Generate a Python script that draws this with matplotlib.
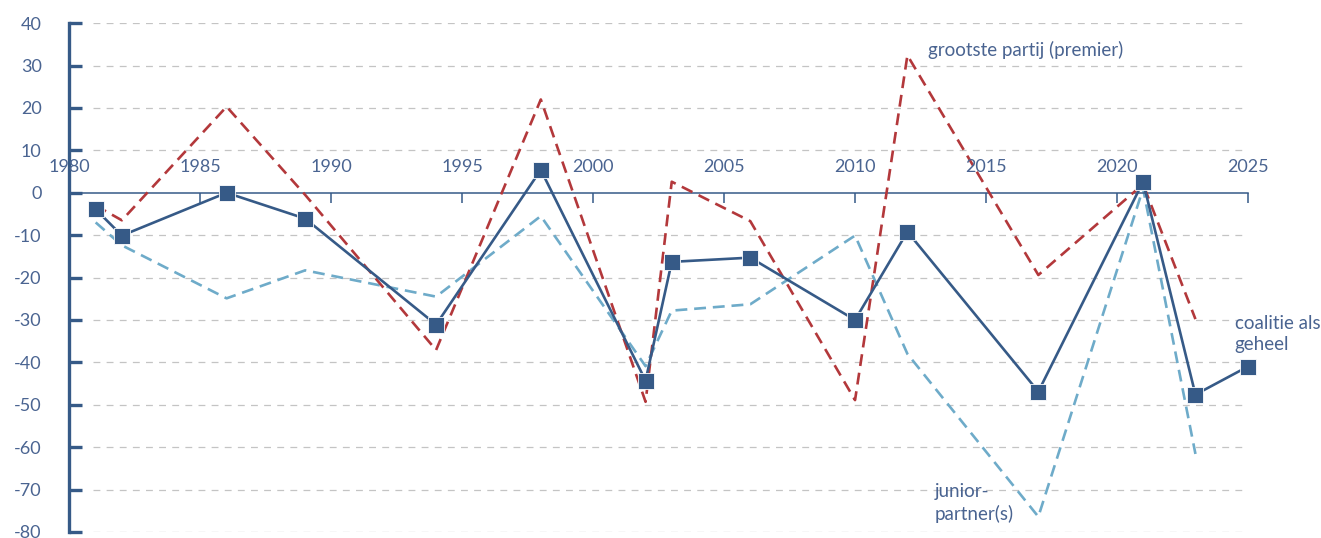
import matplotlib
matplotlib.use("Agg")
import matplotlib.pyplot as plt

# verkiezingsjaren en zetelverandering (%)
years = [1981, 1982, 1986, 1989, 1994, 1998, 2002, 2003, 2006, 2010, 2012, 2017, 2021, 2023, 2025]
coalitie = [-3.9, -10.1, 0.0, -6.1, -31.1, 5.4, -44.3, -16.3, -15.3, -30.0, -9.2, -46.9, 2.6, -47.6, -41.0]

years_pm = [1981, 1982, 1986, 1989, 1994, 1998, 2002, 2003, 2006, 2010, 2012, 2017, 2021, 2023]
grootste = [-3.0, -6.5, 20.3, -0.5, -37.1, 22.0, -49.3, 2.6, -6.7, -48.9, 32.4, -19.4, 2.0, -29.8]
junior = [-7.0, -12.4, -24.9, -18.3, -24.5, -5.5, -40.9, -27.8, -26.3, -10.1, -38.0, -76.4, 1.0, -61.6]

xticks = [1980, 1985, 1990, 1995, 2000, 2005, 2010, 2015, 2020, 2025]
yticks = [40, 30, 20, 10, 0, -10, -20, -30, -40, -50, -60, -70, -80]

navy = "#365a87"
red = "#b3383b"
light = "#6eabc9"
txt = "#4a6491"

plt.rcParams['font.family'] = ['Lato', 'DejaVu Sans']

fig = plt.figure(figsize=(13.21, 5.38), dpi=100)
ax = fig.add_axes([0.0526, 0.0112, 0.892, 0.9458])

for v in yticks:
    if v != 0:
        ax.axhline(v, xmin=0.02, color="#c4c4c4", lw=0.9, dashes=(5.5, 5), zorder=0)

ax.plot(years_pm, junior, color=light, lw=1.9, dashes=(4.5, 2.6), zorder=2)
ax.plot(years_pm, grootste, color=red, lw=1.9, dashes=(4.5, 2.6), zorder=3)
ax.plot(years, coalitie, color=navy, lw=1.9, marker="s", ms=11, zorder=4,
        markeredgecolor="white", markeredgewidth=0.6, clip_on=False)

ax.set_xlim(1980, 2025)
ax.set_ylim(-80, 40)

for s in ["top", "right"]:
    ax.spines[s].set_visible(False)
ax.spines["left"].set_color(navy)
ax.spines["left"].set_linewidth(2.4)
ax.spines["bottom"].set_position(("data", 0))
ax.spines["bottom"].set_color(navy)
ax.spines["bottom"].set_linewidth(1.1)

ax.set_yticks(yticks)
ax.set_yticklabels([str(v) for v in yticks])
ax.tick_params(axis="y", direction="in", length=9.5, width=2.4, color=navy,
               labelcolor=txt, labelsize=13, pad=20)

ax.set_xticks(xticks)
ax.set_xticklabels([])
ax.tick_params(axis="x", direction="out", length=7.5, width=1.1, color=navy)
for x in xticks:
    ax.annotate(str(x), xy=(x, 0), xytext=(0, 13), textcoords="offset points",
                ha="center", va="bottom", color=txt, fontsize=13)

ax.text(2012.8, 33.6, "grootste partij (premier)", color=txt, fontsize=13.5,
        ha="left", va="center")
ax.text(2024.5, -33.3, "coalitie als\ngeheel", color=txt, fontsize=13.5,
        ha="left", va="center", linespacing=1.3)
ax.text(2013.05, -73.1, "junior-\npartner(s)", color=txt, fontsize=13.5,
        ha="left", va="center", linespacing=1.3)

fig.savefig("out.png", dpi=100)
